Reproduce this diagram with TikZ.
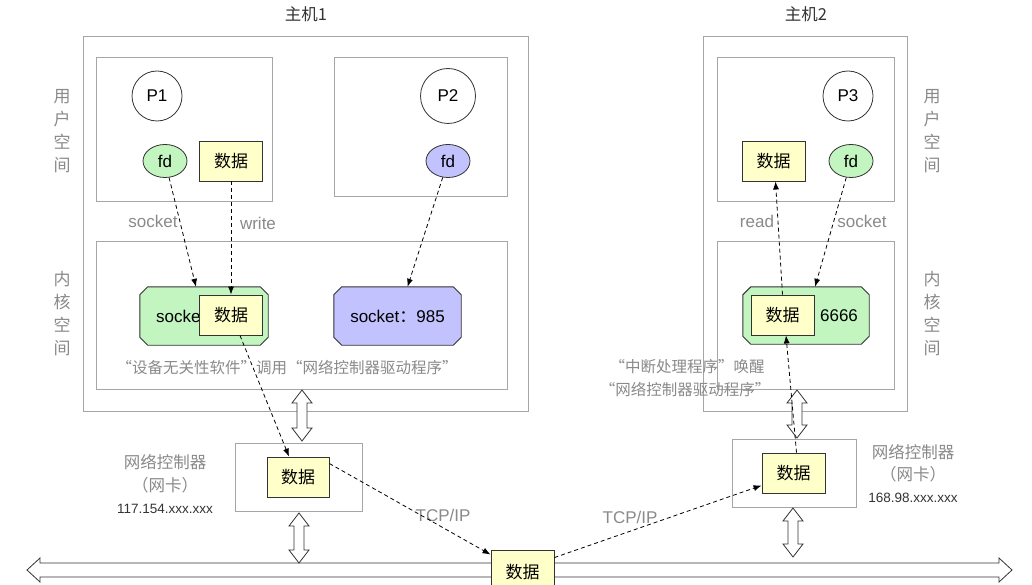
\documentclass[tikz,border=0pt]{standalone}
\usepackage{fontspec}
\setmainfont{Liberation Sans}
\newfontfamily\cjk{Noto Sans CJK SC}
\usetikzlibrary{arrows.meta,shapes.geometric}
\definecolor{boxgray}{HTML}{A6A6A6}
\definecolor{txtgray}{HTML}{8A8A8A}
\definecolor{darkline}{HTML}{333333}
\definecolor{gfill}{HTML}{C2F5C0}
\definecolor{bfill}{HTML}{C2C2FF}
\definecolor{yfill}{HTML}{FFFFCA}
\tikzset{
  region/.style={draw=boxgray, line width=0.9pt, anchor=north west, inner sep=0pt},
  proc/.style={circle, draw=darkline, line width=0.8pt, fill=white, inner sep=0pt, font=\fontsize{17}{20}\selectfont},
  fdg/.style={ellipse, draw=darkline, line width=0.8pt, fill=gfill, minimum width=44pt, minimum height=33pt, inner sep=0pt, font=\fontsize{17}{20}\selectfont},
  fdb/.style={fdg, fill=bfill},
  databox/.style={draw=darkline, line width=0.9pt, fill=yfill, minimum width=63pt, minimum height=40pt, inner sep=0pt, font=\cjk\fontsize{17}{20}\selectfont},
  sockarea/.style={minimum width=127pt, minimum height=58pt, inner sep=0pt},
  octline/.style={draw=darkline, line width=0.9pt},
  graylbl/.style={text=txtgray, font=\fontsize{17}{20}\selectfont, inner sep=0pt},
  graycjk/.style={text=txtgray, font=\cjk\fontsize{15.5}{20}\selectfont, inner sep=0pt},
  vlabel/.style={text=txtgray, font=\cjk\fontsize{17}{23}\selectfont, align=center, inner sep=0pt},
  title/.style={text=darkline, font=\cjk\fontsize{16.5}{20}\selectfont, inner sep=0pt},
  iplbl/.style={text=darkline, font=\fontsize{13.5}{16}\selectfont, inner sep=0pt},
  flow/.style={draw=black, line width=0.8pt, dash pattern=on 4pt off 3pt, -{Latex[length=8pt,width=6pt]}},
  fatarrow/.style={draw=darkline, line width=0.8pt, fill=white, line join=miter},
}
\newcommand\octa[2]{%
  \draw[octline, fill=#2] ([xshift=8pt]#1.north west) -- ([xshift=-8pt]#1.north east) -- ([yshift=-8pt]#1.north east) -- ([yshift=8pt]#1.south east) -- ([xshift=-8pt]#1.south east) -- ([xshift=8pt]#1.south west) -- ([yshift=8pt]#1.south west) -- ([yshift=-8pt]#1.north west) -- cycle;}
\newcommand\vdarr[3]{%
  \draw[fatarrow] (#1,#2) -- (#1+10,#2+13) -- (#1+5,#2+13) -- (#1+5,#3-13) -- (#1+10,#3-13) -- (#1,#3) -- (#1-10,#3-13) -- (#1-5,#3-13) -- (#1-5,#2+13) -- (#1-10,#2+13) -- cycle;}
\begin{document}
\begin{tikzpicture}[x=1pt,y=-1pt]
\useasboundingbox (0,0) rectangle (1032,585);
\fill[white] (0,0) rectangle (1032,585);

% titles
\node[title] (t1) at (306,14) {主机1};
\node[title] (t2) at (806,14) {主机2};

% host 1
\node[region, minimum width=445pt, minimum height=375pt] (h1) at (83,36) {};
\node[region, minimum width=176pt, minimum height=144pt] (u1) at (96,57) {};
\node[region, minimum width=173pt, minimum height=139pt] (u2) at (334,57) {};
\node[region, minimum width=411pt, minimum height=148pt] (k1) at (96,241) {};

\node[vlabel] (lu1) at (62,131) {用\\户\\空\\间};
\node[vlabel] (lk1) at (62,314) {内\\核\\空\\间};

\node[proc, minimum size=50pt] (p1) at (157,96) {P1};
\node[fdg] (fd1) at (165,161) {fd};
\node[databox] (d1) at (231,161) {数据};
\node[proc, minimum size=55pt] (p2) at (448,96) {P2};
\node[fdb] (fd2) at (448,161) {fd};

\node[sockarea, minimum width=128pt] (s1) at (204,316) {};
\octa{s1}{gfill}
\node[anchor=west, inner sep=0pt, font=\fontsize{17}{20}\selectfont] (s1t) at (156,316) {socket};
\node[databox] (d2) at (231,315) {数据};

\node[sockarea] (s2) at (397.5,316) {};
\octa{s2}{bfill}
\node[inner sep=0pt, font=\fontsize{17}{20}\selectfont] (s2t) at (397.5,316) {socket{\cjk ：}985};

\node[graylbl] (lsock1) at (153,221) {socket};
\node[graylbl] (lwrite) at (258,223) {write};
\node[graycjk] (cap1) at (287,368) {“设备无关性软件”调用“网络控制器驱动程序”};

% host 2
\node[region, minimum width=204pt, minimum height=375pt] (h2) at (703,36) {};
\node[region, minimum width=177pt, minimum height=144pt] (u3) at (717,57) {};
\node[region, minimum width=177pt, minimum height=148pt] (k2) at (717,241) {};

\node[vlabel] (lu2) at (932,131) {用\\户\\空\\间};
\node[vlabel] (lk2) at (932,314) {内\\核\\空\\间};

\node[proc, minimum size=50pt] (p3) at (848,96) {P3};
\node[databox] (d3) at (773.5,161) {数据};
\node[fdg] (fd3) at (851,161) {fd};

\node[sockarea, minimum width=126pt, minimum height=57pt] (s3) at (806,315.5) {};
\octa{s3}{gfill}
\node[databox] (d4) at (782.5,315) {数据};
\node[inner sep=0pt, font=\fontsize{17}{20}\selectfont] (s3t) at (839,316) {6666};

\node[graylbl] (lread) at (757,221) {read};
\node[graylbl] (lsock3) at (862,221) {socket};
\node[graycjk] (cap2a) at (687,367) {“中断处理程序”唤醒};
\node[graycjk] (cap2b) at (685,390) {“网络控制器驱动程序”};

% network controllers
\node[region, minimum width=127pt, minimum height=68pt] (n1) at (235,443) {};
\node[databox, minimum width=62pt] (d5) at (298,477) {数据};
\node[region, minimum width=124pt, minimum height=68pt] (n2) at (732,439) {};
\node[databox] (d6) at (793.5,473) {数据};

\node[graycjk, font=\cjk\fontsize{16.5}{20}\selectfont] (n1a) at (165,462) {网络控制器};
\node[graycjk, font=\cjk\fontsize{16.5}{20}\selectfont] (n1b) at (165,485) {（网卡）};
\node[iplbl] (n1c) at (165,509) {117.154.xxx.xxx};
\node[graycjk, font=\cjk\fontsize{16.5}{20}\selectfont] (n2a) at (913,452) {网络控制器};
\node[graycjk, font=\cjk\fontsize{16.5}{20}\selectfont] (n2b) at (913,474) {（网卡）};
\node[iplbl] (n2c) at (913,498) {168.98.xxx.xxx};

% bus
\draw[fatarrow] (27,570) -- (40,558) -- (40,563) -- (999,563) -- (999,558) -- (1012,570) -- (999,582) -- (999,577) -- (40,577) -- (40,582) -- cycle;
\node[databox, minimum height=44pt] (d7) at (522.5,572) {数据};

% fat double arrows
\vdarr{302}{390}{441}
\vdarr{299}{513}{563}
\vdarr{797}{390}{438}
\vdarr{793}{508}{557}

\node[graylbl] (tcp1) at (443,515) {TCP/IP};
\node[graylbl] (tcp2) at (630,517) {TCP/IP};

% data flows
\draw[flow] (fd1) -- ([xshift=-8pt]s1.north);
\draw[flow] (d1.south) -- (d2.north);
\draw[flow] (fd2) -- ([xshift=10pt]s2.north);
\draw[flow] (d4.north) -- ([xshift=2pt]d3.south);
\draw[flow] (fd3) -- ([xshift=9pt]s3.north);
\draw[flow] ([xshift=3pt]d6.north) -- ([xshift=3.5pt]d4.south);
\draw[flow] ([xshift=9pt]d2.south) -- ([xshift=-9pt]d5.north);
\draw[flow] ([yshift=-7pt]d5.north east) -- ([yshift=-5pt]d7.north west);
\draw[flow] ([yshift=-8pt]d7.north east) -- ([yshift=8pt]d6.south west);
\end{tikzpicture}
\end{document}
